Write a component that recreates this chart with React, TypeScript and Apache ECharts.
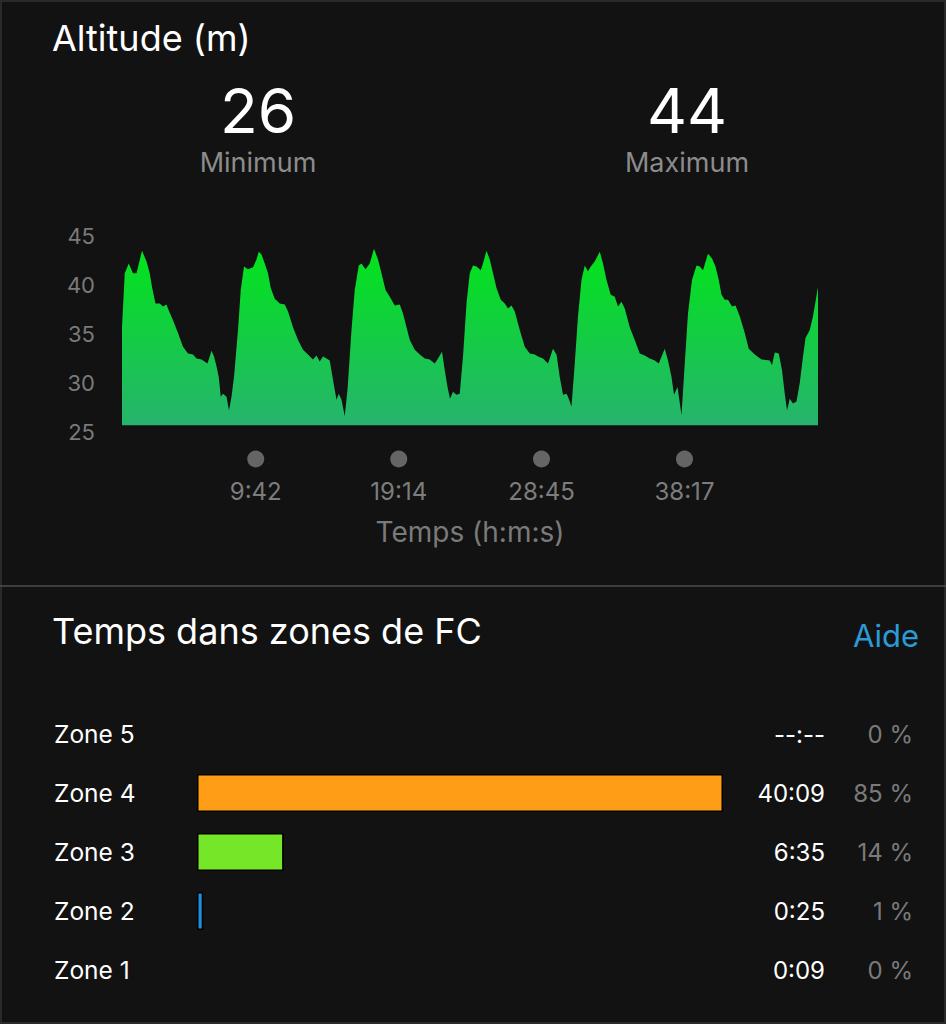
import React, { useEffect, useRef } from "react";
import * as echarts from "echarts";

const FONT = "Inter, Roboto, 'Noto Sans', sans-serif";

// Altitude profile (seconds, metres)
const altSeconds = [
  47, 58, 74, 91, 105, 127, 145, 158, 167, 181, 198, 211, 225, 234, 251, 271, 291, 311, 331, 345,
  365, 389, 405, 415, 425, 434, 442, 451, 465, 475, 485, 495, 511, 522, 535, 551, 571, 585, 594, 605,
  618, 631, 642, 658, 678, 698, 711, 731, 751, 771, 791, 811, 825, 838, 851, 865, 878, 891, 905, 914,
  925, 938, 949, 965, 978, 994, 1005, 1021, 1038, 1055, 1071, 1085, 1101, 1118, 1138, 1158, 1171, 1185, 1198, 1218,
  1238, 1258, 1278, 1298, 1311, 1327, 1338, 1349, 1359, 1371, 1385, 1398, 1411, 1425, 1438, 1451, 1465, 1482, 1491, 1505,
  1518, 1531, 1545, 1562, 1578, 1591, 1605, 1618, 1638, 1658, 1678, 1698, 1711, 1731, 1751, 1771, 1785, 1798, 1811, 1825,
  1831, 1845, 1858, 1871, 1885, 1898, 1911, 1922, 1938, 1958, 1971, 1985, 2002, 2018, 2031, 2045, 2058, 2078, 2098, 2118,
  2138, 2158, 2178, 2194, 2218, 2231, 2245, 2255, 2269, 2285, 2298, 2311, 2327, 2345, 2358, 2371, 2391, 2407, 2421, 2434,
  2445, 2458, 2471, 2487, 2501, 2518, 2538, 2554, 2578, 2605, 2638, 2647, 2658, 2674, 2687, 2698, 2707, 2718, 2731, 2745,
  2758, 2771, 2781, 2798, 2811, 2831,
];
const altMeters = [
  35.7, 41.2, 42.2, 41.2, 41.2, 43.5, 42.4, 41.2, 39.8, 38.1, 38.1, 37.8, 38.0, 37.4, 36.4, 35.1, 33.7, 33.0, 32.9, 32.5,
  32.4, 32.0, 33.3, 32.7, 31.7, 30.6, 28.6, 28.9, 28.6, 27.2, 28.6, 30.6, 35.4, 39.5, 41.9, 41.6, 41.8, 42.6, 43.4, 43.1,
  42.2, 41.2, 39.7, 38.6, 38.1, 38.0, 37.3, 35.7, 34.4, 33.4, 32.9, 32.4, 32.8, 32.2, 32.7, 32.5, 32.3, 30.3, 28.3, 28.9,
  28.3, 26.6, 29.3, 35.4, 39.5, 42.0, 42.2, 41.6, 42.2, 43.7, 42.6, 41.2, 39.5, 38.8, 37.9, 38.0, 37.1, 35.7, 34.4, 33.4,
  32.9, 32.5, 32.4, 32.0, 32.5, 33.2, 31.3, 29.6, 28.4, 29.1, 28.8, 28.9, 32.7, 38.1, 41.2, 42.0, 41.9, 41.5, 42.2, 43.5,
  42.6, 41.2, 39.7, 38.5, 38.1, 37.6, 37.9, 37.3, 35.4, 33.7, 33.0, 32.9, 32.7, 32.5, 32.0, 33.5, 32.9, 30.6, 28.8, 28.9,
  28.6, 27.6, 32.0, 36.8, 40.5, 42.0, 41.4, 41.9, 42.4, 43.4, 42.2, 40.5, 39.0, 38.8, 37.8, 38.3, 37.6, 35.7, 34.4, 33.0,
  32.8, 32.5, 32.3, 32.0, 33.5, 32.3, 30.6, 28.8, 29.6, 26.7, 32.0, 37.1, 40.5, 42.0, 41.9, 41.5, 43.2, 42.7, 41.9, 40.5,
  39.0, 38.5, 38.5, 37.8, 37.9, 36.8, 35.1, 33.5, 32.9, 32.4, 32.3, 31.8, 33.1, 33.0, 31.3, 28.9, 27.2, 28.4, 27.9, 28.1,
  30.0, 32.7, 34.6, 35.4, 36.8, 39.8,
];

const altStatValues = ["26", "44"];
const altStatNames = ["Minimum", "Maximum"];

const tickSeconds = [582, 1154, 1725, 2297];
const tickLabels = ["9:42", "19:14", "28:45", "38:17"];

const zoneNames = ["Zone 5", "Zone 4", "Zone 3", "Zone 2", "Zone 1"];
const zoneTimes = ["--:--", "40:09", "6:35", "0:25", "0:09"];
const zonePct = [0, 85, 14, 1, 0];
const zoneColors = ["#e8322c", "#ff9e16", "#75e628", "#1e8fe0", "#9a9a9a"];

export default function App() {
  const ref = useRef<HTMLDivElement>(null);

  useEffect(() => {
    if (!ref.current) return;
    const chart = echarts.init(ref.current, null, { renderer: "svg" });

    const option: any = {
      animation: false,
      backgroundColor: "#121212",
      textStyle: { fontFamily: FONT },
      grid: [
        { left: 122, top: 236, width: 696, height: 196 },
        { left: 122, top: 450, width: 696, height: 18 },
        { left: 197, top: 704.5, width: 526, height: 295 },
      ],
      xAxis: [
        { gridIndex: 0, type: "value", min: 47, max: 2831, show: false },
        {
          gridIndex: 1,
          type: "value",
          min: 47,
          max: 2831,
          axisLine: { show: false },
          axisTick: { show: false },
          splitLine: { show: false },
          axisLabel: {
            customValues: tickSeconds,
            formatter: (v: number) => {
              const i = tickSeconds.indexOf(v);
              return i >= 0 ? tickLabels[i] : "";
            },
            color: "#7d7d7d",
            fontSize: 24,
            margin: 11,
            fontFamily: FONT,
          },
          name: "Temps (h:m:s)",
          nameLocation: "middle",
          nameGap: 50,
          nameTextStyle: { color: "#7a7a7a", fontSize: 28, fontFamily: FONT },
        },
        { gridIndex: 2, type: "value", min: 0, max: "dataMax", show: false },
      ],
      yAxis: [
        {
          gridIndex: 0,
          type: "value",
          min: 25,
          max: 45,
          interval: 5,
          splitLine: { show: false },
          axisLine: { show: false },
          axisTick: { show: false },
          axisLabel: { color: "#7a7a7a", fontSize: 22, margin: 27, fontFamily: FONT },
        },
        { gridIndex: 1, type: "value", min: 0, max: 1, show: false },
        {
          gridIndex: 2,
          type: "category",
          inverse: true,
          data: zoneNames,
          axisLine: { show: false },
          axisTick: { show: false },
          axisLabel: { align: "left", margin: 143, color: "#ffffff", fontSize: 24.5, fontFamily: FONT },
        },
        {
          gridIndex: 2,
          type: "category",
          inverse: true,
          position: "right",
          offset: 102,
          data: zoneTimes,
          axisLine: { show: false },
          axisTick: { show: false },
          axisLabel: { align: "right", margin: 0, color: "#ffffff", fontSize: 24, fontFamily: FONT },
        },
        {
          gridIndex: 2,
          type: "category",
          inverse: true,
          position: "right",
          offset: 190,
          data: zonePct.map((p) => `${p} %`),
          axisLine: { show: false },
          axisTick: { show: false },
          axisLabel: { align: "right", margin: 0, color: "#7a7a7a", fontSize: 24, fontFamily: FONT },
        },
      ],
      series: [
        {
          type: "line",
          xAxisIndex: 0,
          yAxisIndex: 0,
          data: altSeconds.map((s, i) => [s, altMeters[i]]),
          showSymbol: false,
          symbol: "none",
          lineStyle: { width: 0 },
          areaStyle: {
            origin: 25.7,
            opacity: 1,
            color: new echarts.graphic.LinearGradient(0, 0, 0, 1, [
              { offset: 0, color: "#02e41a" },
              { offset: 1, color: "#26b46e" },
            ]),
          },
          silent: true,
        },
        {
          type: "scatter",
          xAxisIndex: 1,
          yAxisIndex: 1,
          data: tickSeconds.map((s) => [s, 0.5]),
          symbolSize: 17,
          itemStyle: { color: "#7a7a7a" },
          silent: true,
        },
        {
          type: "bar",
          xAxisIndex: 2,
          yAxisIndex: 2,
          barWidth: 38,
          data: zonePct.map((p, i) => ({
            value: p,
            itemStyle: {
              color: zoneColors[i],
              borderColor: "#000000",
              borderWidth: p > 0 ? 1.5 : 0,
              opacity: p > 0 ? 1 : 0,
            },
          })),
          silent: true,
        },
      ],
      graphic: [
        {
          type: "rect",
          shape: { x: 1, y: 1, width: 944, height: 1022 },
          style: { fill: "none", stroke: "#2a2a2a", lineWidth: 2 },
          silent: true,
        },
        {
          type: "text",
          x: 52,
          y: 38,
          style: {
            text: "Altitude (m)",
            fill: "#ffffff",
            font: `36px ${FONT}`,
            textVerticalAlign: "middle",
          },
        },
        ...altStatValues.flatMap((v, i) => {
          const cx = i === 0 ? 258 : 687;
          return [
            {
              type: "text",
              x: cx,
              y: 110,
              style: {
                text: v,
                fill: "#ffffff",
                font: `62px ${FONT}`,
                textAlign: "center",
                textVerticalAlign: "middle",
              },
            },
            {
              type: "text",
              x: cx,
              y: 162,
              style: {
                text: altStatNames[i],
                fill: "#8c8c8c",
                font: `27px ${FONT}`,
                textAlign: "center",
                textVerticalAlign: "middle",
              },
            },
          ];
        }),
        {
          type: "line",
          shape: { x1: 0, y1: 586, x2: 946, y2: 586 },
          style: { stroke: "#4e4e4e", lineWidth: 1.5 },
        },
        {
          type: "text",
          x: 52,
          y: 631,
          style: {
            text: "Temps dans zones de FC",
            fill: "#ffffff",
            font: `36px ${FONT}`,
            textVerticalAlign: "middle",
          },
        },
        {
          type: "text",
          x: 919,
          y: 635,
          style: {
            text: "Aide",
            fill: "#2b9bd8",
            font: `31px ${FONT}`,
            textAlign: "right",
            textVerticalAlign: "middle",
          },
        },
      ],
    };

    chart.setOption(option);
    return () => chart.dispose();
  }, []);

  return (
    <div
      ref={ref}
      style={{ position: "fixed", left: 0, top: 0, width: 946, height: 1024 }}
    />
  );
}
